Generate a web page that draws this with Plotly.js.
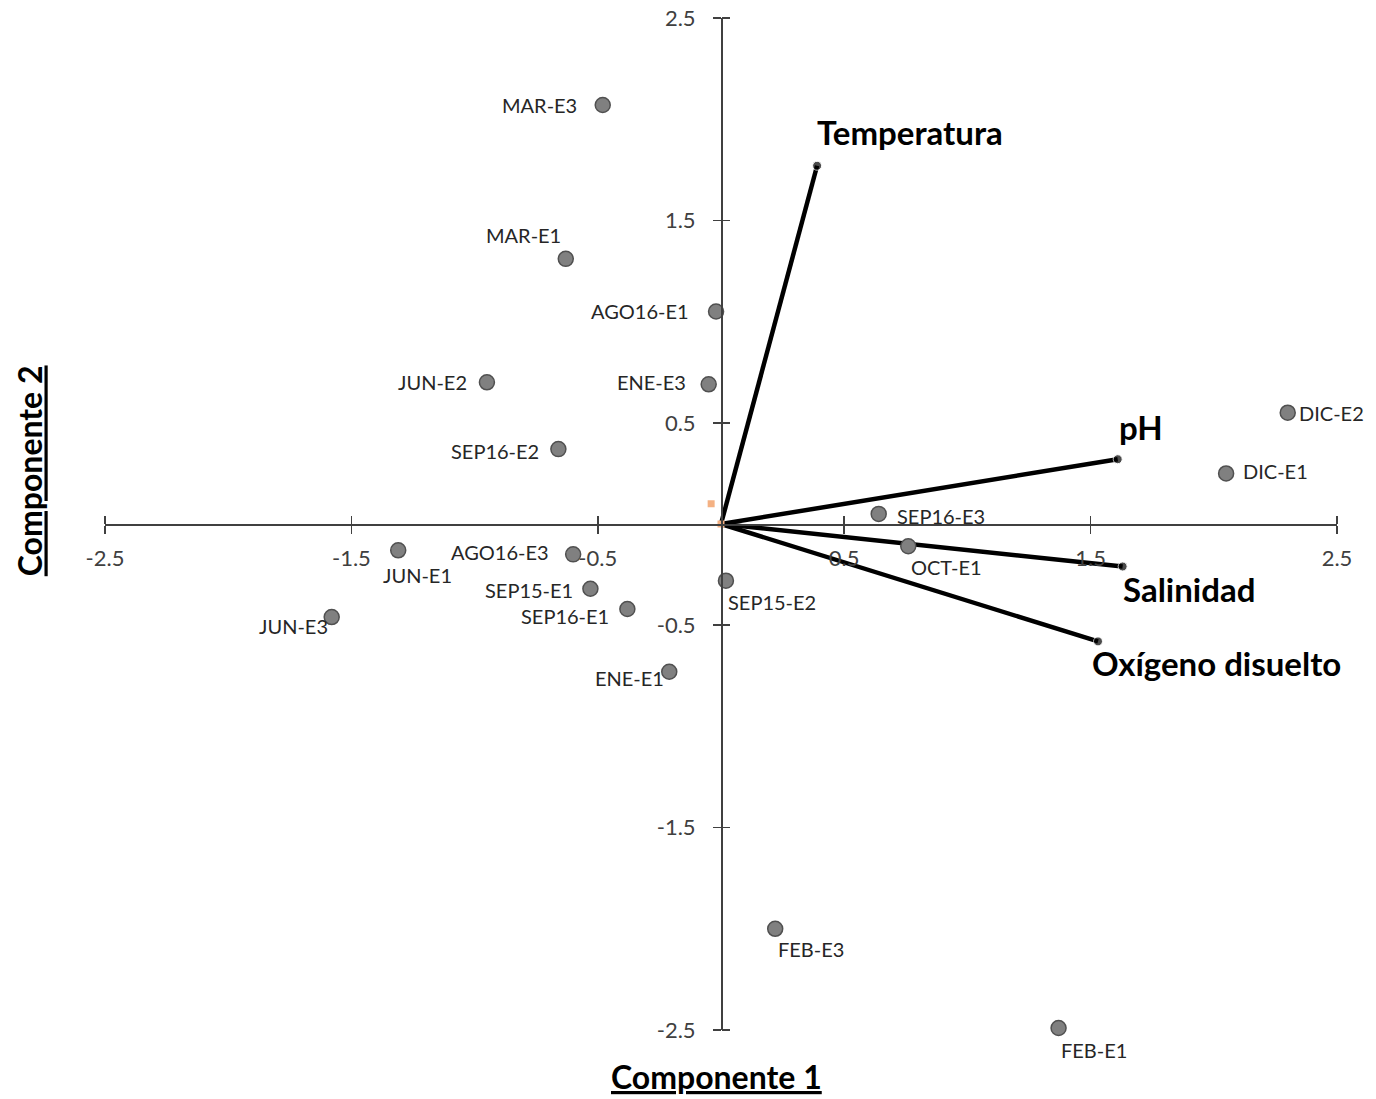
<!DOCTYPE html>
<html>
<head>
<meta charset="utf-8">
<script src="https://cdn.plot.ly/plotly-3.0.1.min.js"></script>
<style>html,body{margin:0;padding:0;background:#fff;}#chart{width:1376px;height:1099px;}</style>
</head>
<body>
<div id="chart"></div>
<script>
// Sample scores (Componente 1, Componente 2)
const sampleNames = ["MAR-E3","MAR-E1","AGO16-E1","JUN-E2","ENE-E3","SEP16-E2","DIC-E2","DIC-E1","SEP16-E3","OCT-E1","JUN-E1","AGO16-E3","SEP15-E1","SEP16-E1","JUN-E3","SEP15-E2","ENE-E1","FEB-E3","FEB-E1"];
const comp1 = [-0.48,-0.63,-0.02,-0.95,-0.05,-0.66,2.30,2.05,0.64,0.76,-1.31,-0.60,-0.53,-0.38,-1.58,0.02,-0.21,0.22,1.37];
const comp2 = [2.07,1.31,1.05,0.70,0.69,0.37,0.55,0.25,0.05,-0.11,-0.13,-0.15,-0.32,-0.42,-0.46,-0.28,-0.73,-2.00,-2.49];

// Variable loadings (vectors from origin)
const varNames = ["Temperatura","pH","Salinidad","Oxígeno disuelto"];
const load1 = [0.39,1.61,1.63,1.53];
const load2 = [1.77,0.32,-0.21,-0.58];

// Origin markers
const origX = [0, -0.04];
const origY = [0, 0.10];

const tickVals = [-2.5,-1.5,-0.5,0.5,1.5,2.5];
const tickText = ["-2.5","-1.5","-0.5","0.5","1.5","2.5"];

// label placement (style): [anchor, xshift, yshift] in pixels
const sampleLabelStyle = [
  ["right",-24,0],["right",-3,24],["right",-25,0],["right",-18,0],["right",-21,2],["right",-17,-2],
  ["left",9,0],["left",15,2],["left",16,-2],["left",1,-21],["left",-17,-25],["right",-22,2],
  ["right",-15,-1],["right",-16,-7],["right",-2,-9],["left",0,-21],["right",-3,-6],["left",1,-20],["left",0,-22]
];
const varLabelStyle = [["left",-2,34],["left",-1,32],["left",-2,-22],["left",-8,-22]];

const FONT = "Lato, 'Open Sans', sans-serif";
const traces = [];
for (let i = 0; i < varNames.length; i++) {
  traces.push({
    x: [0, load1[i]], y: [0, load2[i]],
    mode: "lines+markers",
    line: {color: "#000000", width: 4.5},
    marker: {color: "#000000", size: [0, 9]},
    hoverinfo: "skip", showlegend: false, cliponaxis: false
  });
}
traces.push({
  x: comp1, y: comp2, text: sampleNames,
  mode: "markers",
  marker: {color: "#808080", size: 15, line: {color: "#505050", width: 1.5}},
  showlegend: false, cliponaxis: false
});
traces.push({
  x: origX, y: origY, mode: "markers",
  marker: {symbol: "square", color: "#F4B183", size: 7},
  showlegend: false, cliponaxis: false
});
traces.push({x: [0], y: [0], xaxis: "x2", yaxis: "y2", mode: "markers", marker: {opacity: 0}, showlegend: false, hoverinfo: "skip"});

const annotations = [];
sampleNames.forEach((n, i) => {
  const s = sampleLabelStyle[i];
  annotations.push({x: comp1[i], y: comp2[i], xref: "x", yref: "y", text: n, showarrow: false,
    xanchor: s[0], yanchor: "middle", xshift: s[1], yshift: s[2],
    font: {family: FONT, size: 20, color: "#262626"}});
});
varNames.forEach((n, i) => {
  const s = varLabelStyle[i];
  annotations.push({x: load1[i], y: load2[i], xref: "x", yref: "y", text: "<b>" + n + "</b>", showarrow: false,
    xanchor: s[0], yanchor: "middle", xshift: s[1], yshift: s[2],
    font: {family: FONT, size: 33, color: "#000000"}});
});
annotations.push(
  {text: "<b><u>Componente 1</u></b>", xref: "paper", yref: "paper", x: 0.496, y: -0.046, xanchor: "center", yanchor: "middle", showarrow: false,
   font: {family: FONT, size: 32, color: "#000"}},
  {text: "<b><u>Componente 2</u></b>", xref: "paper", yref: "paper", x: -0.061, y: 0.553, xanchor: "center", yanchor: "middle", showarrow: false, textangle: -90,
   font: {family: FONT, size: 32, color: "#000"}}
);

const axFont = {family: FONT, size: 22, color: "#404040"};
const baseAxis = {range: [-2.5, 2.5], anchor: "free", position: 0.5, showgrid: false, zeroline: false,
  ticks: "outside", ticklen: 8, tickwidth: 1.5, tickcolor: "#404040", tickmode: "array", tickvals: tickVals};
const layout = {
  width: 1376, height: 1099,
  margin: {l: 105, r: 39, t: 18, b: 69},
  paper_bgcolor: "#fff", plot_bgcolor: "#fff",
  showlegend: false,
  xaxis: Object.assign({}, baseAxis, {showline: true, linecolor: "#404040", linewidth: 1.5,
    ticktext: tickText, tickfont: axFont, ticklabelstandoff: 6}),
  yaxis: Object.assign({}, baseAxis, {showline: true, linecolor: "#404040", linewidth: 1.5,
    ticktext: tickText, tickfont: axFont, ticklabelstandoff: 13}),
  xaxis2: Object.assign({}, baseAxis, {overlaying: "x", side: "top", showline: false, showticklabels: false}),
  yaxis2: Object.assign({}, baseAxis, {overlaying: "y", side: "right", showline: false, showticklabels: false}),
  annotations: annotations
};
Plotly.newPlot("chart", traces, layout, {displayModeBar: false, staticPlot: true});
</script>
</body>
</html>
